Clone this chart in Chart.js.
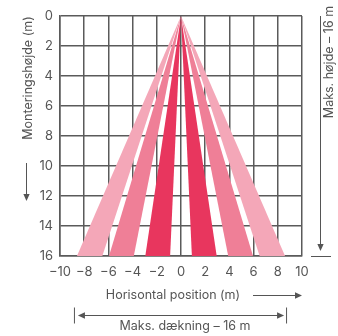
<!DOCTYPE html>
<html>
<head>
<meta charset="utf-8">
<script src="https://cdn.jsdelivr.net/npm/chart.js@4.4.1/dist/chart.umd.min.js"></script>
<style>
  html, body { margin: 0; padding: 0; background: #fff; }
  #wrap { width: 338px; height: 336px; position: relative; }
</style>
</head>
<body>
<div id="wrap"><canvas id="c" width="338" height="336"></canvas></div>
<script>
// ---- data ----
const maxHeight = 16;                 // mounting height (m), beams reach the bottom
const apexX = 0;                      // beams originate at x = 0, y = 0
const darkBeamEdges = [0.9, 2.95];    // |x| at bottom for inner beams
const mediumBeamEdges = [3.9, 5.95];  // |x| at bottom for middle beams
const lightBeamEdges = [6.5, 8.6];    // |x| at bottom for outer beams
const xTickValues = [-10, -8, -6, -4, -2, 0, 2, 4, 6, 8, 10];
const yTickValues = [0, 2, 4, 6, 8, 10, 12, 14, 16];

const yTitle = 'Monteringshøjde (m)';
const xTitle = 'Horisontal position (m)';
const coverageLabel = 'Maks. dækning – 16 m';
const heightLabel = 'Maks. højde – 16 m';

const colors = { dark: '#E8365E', medium: '#EF7F97', light: '#F4A7B8' };
const ink = '#555555';
const gridInk = '#5a5a5a';
const fontFamily = 'Inter, "Open Sans", sans-serif';

function wedge(edges, sign) {
  return [
    { x: apexX, y: 0 },
    { x: sign * edges[0], y: maxHeight },
    { x: sign * edges[1], y: maxHeight },
    { x: apexX, y: 0 }
  ];
}
function ds(edges, sign, color) {
  return {
    type: 'line',
    data: wedge(edges, sign),
    showLine: true,
    fill: 'shape',
    backgroundColor: color,
    borderColor: color,
    borderWidth: 0,
    pointRadius: 0,
    tension: 0
  };
}
const datasets = [
  ds(lightBeamEdges, -1, colors.light), ds(lightBeamEdges, 1, colors.light),
  ds(mediumBeamEdges, -1, colors.medium), ds(mediumBeamEdges, 1, colors.medium),
  ds(darkBeamEdges, -1, colors.dark), ds(darkBeamEdges, 1, colors.dark)
];

function arrowHead(ctx, x, y, dir, size) {
  ctx.beginPath();
  if (dir === 'down') { ctx.moveTo(x, y); ctx.lineTo(x - size*0.45, y - size); ctx.lineTo(x + size*0.45, y - size); }
  if (dir === 'right') { ctx.moveTo(x, y); ctx.lineTo(x - size, y - size*0.45); ctx.lineTo(x - size, y + size*0.45); }
  if (dir === 'left') { ctx.moveTo(x, y); ctx.lineTo(x + size, y - size*0.45); ctx.lineTo(x + size, y + size*0.45); }
  ctx.closePath(); ctx.fill();
}

const annotations = {
  id: 'annotations',
  afterDraw(chart) {
    const ctx = chart.ctx;
    const a = chart.chartArea;
    const xs = chart.scales.x, ys = chart.scales.y;
    ctx.save();
    ctx.fillStyle = ink; ctx.strokeStyle = ink; ctx.lineWidth = 1;
    ctx.font = '400 12.5px ' + fontFamily;
    ctx.textBaseline = 'middle';

    // left rotated title
    ctx.save();
    ctx.translate(a.left - 32, a.top + 62);
    ctx.rotate(-Math.PI / 2);
    ctx.textAlign = 'center';
    ctx.fillText(yTitle, 0, 0);
    ctx.restore();
    // left down arrow
    const lx = a.left - 33.5;
    ctx.beginPath(); ctx.moveTo(lx, a.top + 147); ctx.lineTo(lx, a.top + 180); ctx.stroke();
    arrowHead(ctx, lx, a.top + 185, 'down', 7);

    // right rotated label
    ctx.save();
    ctx.translate(a.right + 27.5, a.top + 46);
    ctx.rotate(-Math.PI / 2);
    ctx.textAlign = 'center';
    ctx.fillText(heightLabel, 0, 0);
    ctx.restore();
    const rx = a.right + 18.5;
    ctx.beginPath(); ctx.moveTo(rx, ys.getPixelForValue(0)); ctx.lineTo(rx, a.bottom - 8); ctx.stroke();
    arrowHead(ctx, rx, a.bottom - 5, 'down', 7);
    ctx.beginPath(); ctx.moveTo(a.right + 9, a.bottom + 0.5); ctx.lineTo(a.right + 29, a.bottom + 0.5); ctx.stroke();

    // x title + arrow
    const ty = a.bottom + 39;
    ctx.textAlign = 'center';
    ctx.fillText(xTitle, a.left + 113, ty);
    ctx.beginPath(); ctx.moveTo(a.left + 193, ty + 0.5); ctx.lineTo(a.right - 5, ty + 0.5); ctx.stroke();
    arrowHead(ctx, a.right, ty + 0.5, 'right', 7);

    // coverage double arrow
    const cy = a.bottom + 59.5;
    const cl = xs.getPixelForValue(-8.6), cr = xs.getPixelForValue(8.6);
    ctx.beginPath(); ctx.moveTo(cl - 2.5, cy - 8); ctx.lineTo(cl - 2.5, cy + 8); ctx.stroke();
    ctx.beginPath(); ctx.moveTo(cr + 1.5, cy - 8); ctx.lineTo(cr + 1.5, cy + 8); ctx.stroke();
    ctx.beginPath(); ctx.moveTo(cl + 6, cy); ctx.lineTo(cr - 6, cy); ctx.stroke();
    arrowHead(ctx, cl + 1, cy, 'left', 7);
    arrowHead(ctx, cr - 1, cy, 'right', 7);
    ctx.fillText(coverageLabel, a.left + 125, a.bottom + 70);
    ctx.restore();
  }
};

const tickFont = { family: fontFamily, size: 13, weight: 400 };

new Chart(document.getElementById('c'), {
  type: 'scatter',
  data: { datasets },
  plugins: [annotations],
  options: {
    responsive: false,
    animation: false,
    layout: { padding: { left: 0, right: 36, top: 16, bottom: 0 } },
    plugins: { legend: { display: false }, tooltip: { enabled: false } },
    scales: {
      x: {
        type: 'linear', min: -10, max: 10, z: 1,
        afterBuildTicks: s => { s.ticks = xTickValues.map(v => ({ value: v })); },
        afterFit: s => { s.height = 80; },
        grid: { color: gridInk, lineWidth: 1.5, drawTicks: false },
        border: { color: gridInk, width: 1.5 },
        ticks: { color: ink, font: tickFont, padding: 8, maxRotation: 0, autoSkip: false,
                 callback: v => String(v).replace('-', '−') }
      },
      y: {
        type: 'linear', min: 0, max: 16, reverse: true, z: 1,
        afterBuildTicks: s => { s.ticks = yTickValues.map(v => ({ value: v })); },
        afterFit: s => { s.width = 60; },
        grid: { color: gridInk, lineWidth: 1.5, drawTicks: false },
        border: { color: gridInk, width: 1.5 },
        ticks: { color: ink, font: tickFont, padding: 7, autoSkip: false }
      }
    }
  }
});
</script>
</body>
</html>
